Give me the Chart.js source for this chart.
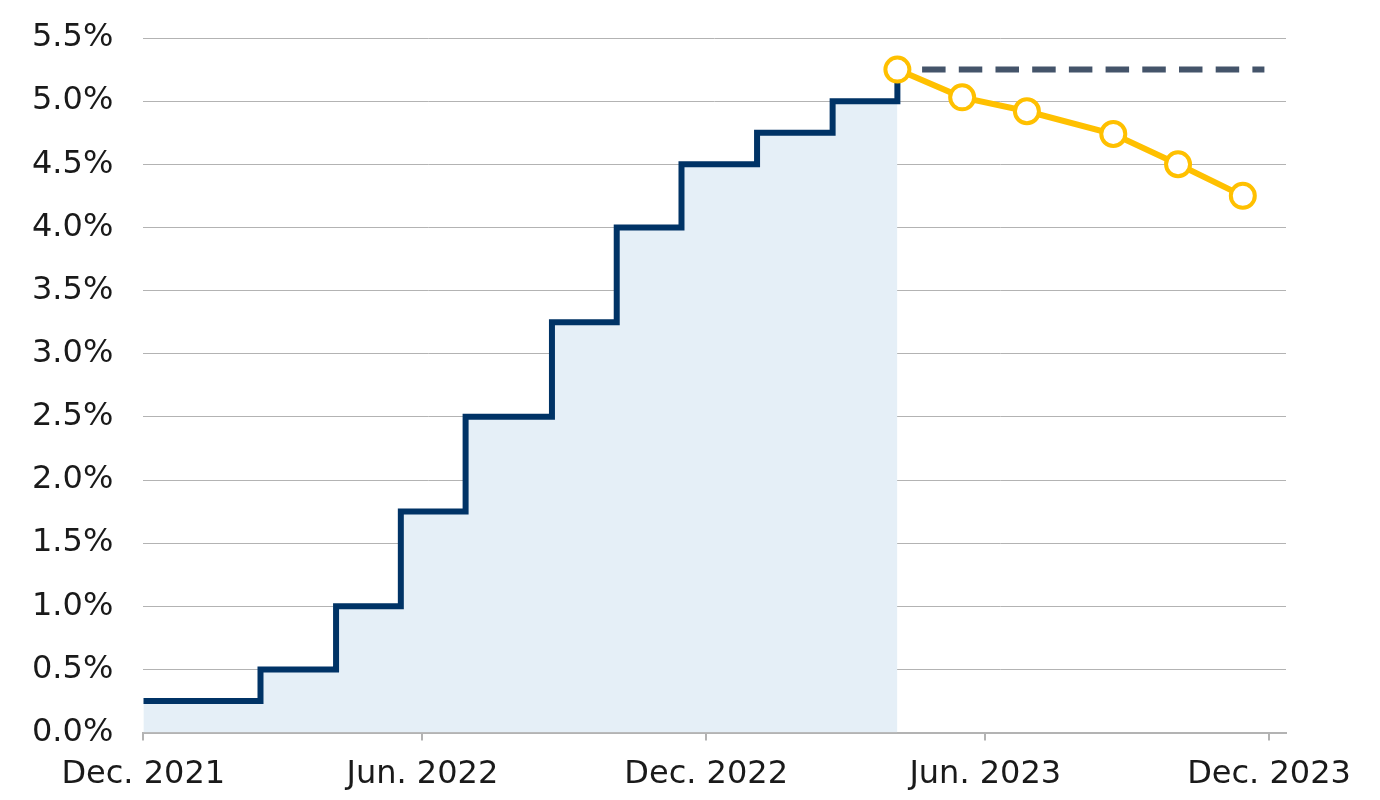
<!DOCTYPE html>
<html lang="en">
  <head>
    <meta charset="utf-8">
    <title>Policy rate path</title>
    <script src="https://cdn.jsdelivr.net/npm/chart.js@4.4.1/dist/chart.umd.min.js"></script>
    <style>
      body { margin: 0; background: #fff; }
      div.wrap { width: 1380px; height: 800px; position: relative; }
    </style>
  </head>
  <body>
    <div class="wrap"><canvas id="chart-1"></canvas></div>

    <script>
      // rate steps (date the new rate took effect, upper bound in %)
      var stepDates = ['2021-12-31', '2022-03-17', '2022-05-05', '2022-06-16', '2022-07-28', '2022-09-22',
                       '2022-11-03', '2022-12-15', '2023-02-02', '2023-03-23', '2023-05-04'];
      var stepRates = [0.25, 0.50, 1.00, 1.75, 2.50, 3.25, 4.00, 4.50, 4.75, 5.00, 5.25];

      // market-implied path for the next meetings
      var pathDates = ['2023-05-04', '2023-06-15', '2023-07-27', '2023-09-21', '2023-11-02', '2023-12-14'];
      var pathRates = [5.25, 5.03, 4.92, 4.74, 4.50, 4.25];

      // flat "hold" line
      var holdDates = ['2023-05-04', '2023-12-28'];
      var holdRates = [5.25, 5.25];

      var tickDates = ['2021-12-31', '2022-06-30', '2022-12-31', '2023-06-30', '2023-12-31'];
      var tickLabels = ['Dec. 2021', 'Jun. 2022', 'Dec. 2022', 'Jun. 2023', 'Dec. 2023'];
      var axisEnd = '2024-01-11';

      var origin = Date.UTC(2021, 11, 31);
      function day(s) {
        var p = s.split('-');
        return (Date.UTC(+p[0], +p[1] - 1, +p[2]) - origin) / 86400000;
      }
      function pts(dates, vals) {
        return dates.map(function (d, i) { return { x: day(d), y: vals[i] }; });
      }
      var tickDays = tickDates.map(day);

      Chart.defaults.font.family = '"DejaVu Sans", sans-serif';
      Chart.defaults.font.size = 32;
      Chart.defaults.color = '#1a1a1a';

      new Chart(document.getElementById('chart-1'), {
        type: 'line',
        data: {
          datasets: [
            {
              data: pts(pathDates, pathRates),
              borderColor: '#ffc000',
              borderWidth: 6,
              pointRadius: 12,
              pointBorderWidth: 4,
              pointBackgroundColor: '#fff',
              pointBorderColor: '#ffc000',
              order: 1
            },
            {
              data: pts(holdDates, holdRates),
              borderColor: '#44546a',
              borderWidth: 6,
              borderDash: [23.5, 13.2],
              borderDashOffset: 12,
              pointRadius: 0,
              order: 2
            },
            {
              data: pts(stepDates, stepRates),
              stepped: 'before',
              borderColor: '#003366',
              borderWidth: 6,
              borderJoinStyle: 'miter',
              borderCapStyle: 'butt',
              pointRadius: 0,
              fill: 'origin',
              backgroundColor: '#e5eff7',
              order: 3
            }
          ]
        },
        options: {
          responsive: true,
          maintainAspectRatio: false,
          animation: false,
          layout: { padding: { left: 2, right: 94, top: 38, bottom: -9 } },
          plugins: { legend: { display: false }, tooltip: { enabled: false } },
          scales: {
            x: {
              type: 'linear',
              min: 0,
              max: day(axisEnd),
              afterBuildTicks: function (axis) {
                axis.ticks = tickDays.map(function (v) { return { value: v }; });
              },
              ticks: {
                autoSkip: false,
                maxRotation: 0,
                padding: 15,
                callback: function (v) {
                  var i = tickDays.indexOf(v);
                  return i >= 0 ? tickLabels[i] : '';
                }
              },
              grid: { drawOnChartArea: false, drawTicks: true, tickLength: 8, color: '#b3b3b3', lineWidth: 2 },
              border: { color: '#b3b3b3', width: 2 }
            },
            y: {
              min: 0,
              max: 5.5,
              afterFit: function (axis) { axis.paddingTop = 0; },
              ticks: {
                stepSize: 0.5,
                padding: 30,
                callback: function (v) { return v.toFixed(1) + '%'; }
              },
              grid: { color: '#b3b3b3', lineWidth: 1, drawTicks: false },
              border: { display: false }
            }
          }
        }
      });
    </script>
  </body>
</html>
